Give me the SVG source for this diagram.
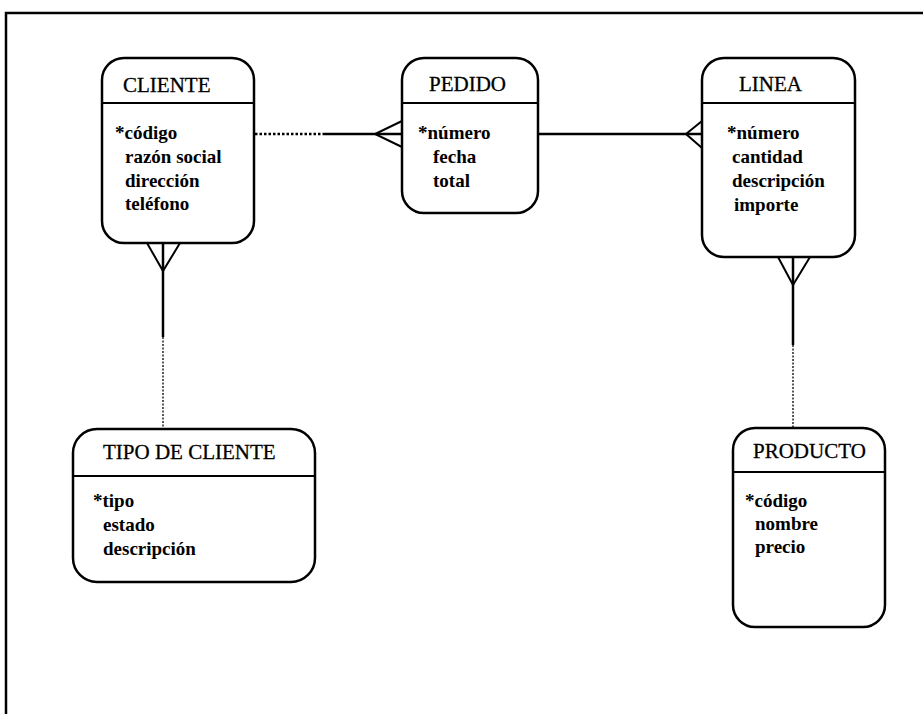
<svg xmlns="http://www.w3.org/2000/svg" width="923" height="714" viewBox="0 0 923 714">
  <style>
    .box { fill: #ffffff; stroke: #000000; stroke-width: 2.5; }
    .sep { stroke: #000000; stroke-width: 2; }
    .title { font-family: "Liberation Serif", "Times New Roman", serif; font-size: 21px; fill: #000000; stroke: #000000; stroke-width: 0.3; }
    .attr { font-family: "Liberation Serif", "Times New Roman", serif; font-size: 19px; font-weight: bold; fill: #000000; }
    .solid { stroke: #000000; stroke-width: 2.5; fill: none; }
    .fork { stroke: #000000; stroke-width: 2; fill: none; }
    .dots { stroke: #000000; stroke-width: 2.5; stroke-dasharray: 2.5 2; fill: none; }
    .fine { stroke: #000000; stroke-width: 1.3; stroke-dasharray: 2 1.5; fill: none; }
    .frame { stroke: #000000; stroke-width: 2.5; fill: none; }
  </style>

  <rect x="0" y="0" width="923" height="714" fill="#ffffff"/>
  <!-- page frame: top and left edges -->
  <path class="frame" d="M6,714 L6,13 L923,13"/>

  <!-- relationships -->
  <g id="connectors">
    <!-- CLIENTE to PEDIDO -->
    <line class="dots" x1="255" y1="134" x2="325" y2="134"/>
    <line class="solid" x1="325" y1="134" x2="402" y2="134"/>
    <path class="fork" d="M402,121 L375,134 L402,147"/>
    <!-- PEDIDO to LINEA -->
    <line class="solid" x1="538" y1="134" x2="702" y2="134"/>
    <path class="fork" d="M702,121 L686,134 L702,148"/>
    <!-- CLIENTE to TIPO DE CLIENTE -->
    <line class="solid" x1="163" y1="243" x2="163" y2="337"/>
    <line class="fine" x1="163" y1="337" x2="163" y2="429"/>
    <path class="fork" d="M147,243 L163,271 L180,243"/>
    <!-- LINEA to PRODUCTO -->
    <line class="solid" x1="793" y1="257" x2="793" y2="345"/>
    <line class="fine" x1="793" y1="345" x2="793" y2="428"/>
    <path class="fork" d="M778,257 L793,285 L810,257"/>
  </g>

  <g id="cliente">
    <rect class="box" x="102" y="58" width="152" height="185" rx="22"/>
    <line class="sep" x1="102" y1="103" x2="254" y2="103"/>
    <text class="title" x="123" y="92">CLIENTE</text>
    <text class="attr" x="115" y="139">*código</text>
    <text class="attr" x="125" y="163">razón social</text>
    <text class="attr" x="125" y="187">dirección</text>
    <text class="attr" x="125" y="210">teléfono</text>
  </g>

  <g id="pedido">
    <rect class="box" x="402" y="58" width="136" height="155" rx="22"/>
    <line class="sep" x1="402" y1="103" x2="538" y2="103"/>
    <text class="title" x="429" y="91">PEDIDO</text>
    <text class="attr" x="418" y="139">*número</text>
    <text class="attr" x="433" y="163">fecha</text>
    <text class="attr" x="433" y="187">total</text>
  </g>

  <g id="linea">
    <rect class="box" x="702" y="58" width="153" height="199" rx="22"/>
    <line class="sep" x1="702" y1="103" x2="855" y2="103"/>
    <text class="title" x="739" y="91">LINEA</text>
    <text class="attr" x="727" y="139">*número</text>
    <text class="attr" x="732" y="163">cantidad</text>
    <text class="attr" x="732" y="187">descripción</text>
    <text class="attr" x="734" y="211">importe</text>
  </g>

  <g id="tipo-de-cliente">
    <rect class="box" x="73" y="429" width="242" height="153" rx="24"/>
    <line class="sep" x1="73" y1="476" x2="315" y2="476"/>
    <text class="title" x="103" y="459">TIPO DE CLIENTE</text>
    <text class="attr" x="93" y="507">*tipo</text>
    <text class="attr" x="103" y="531">estado</text>
    <text class="attr" x="103" y="555">descripción</text>
  </g>

  <g id="producto">
    <rect class="box" x="733" y="428" width="152" height="199" rx="22"/>
    <line class="sep" x1="733" y1="472" x2="885" y2="472"/>
    <text class="title" x="753" y="458">PRODUCTO</text>
    <text class="attr" x="745" y="507">*código</text>
    <text class="attr" x="755" y="530">nombre</text>
    <text class="attr" x="755" y="553">precio</text>
  </g>
</svg>
